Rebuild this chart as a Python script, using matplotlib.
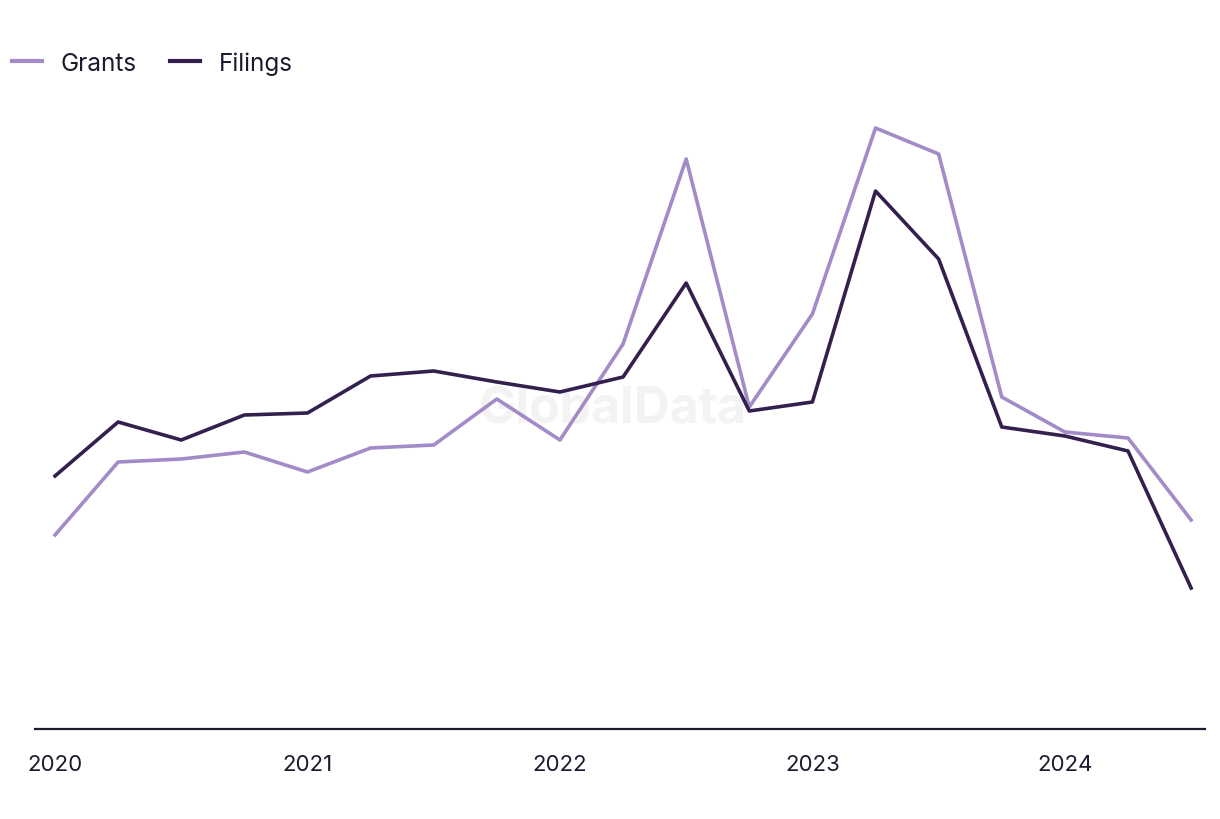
"""Quarterly grants vs filings line chart."""
import matplotlib
matplotlib.use("Agg")
import matplotlib.pyplot as plt

plt.rcParams.update({
    "font.family": ["Inter", "DejaVu Sans"],
    "font.size": 16,
    "text.color": "#1b1a2e",
})

quarters = ["2020 Q1", "2020 Q2", "2020 Q3", "2020 Q4",
            "2021 Q1", "2021 Q2", "2021 Q3", "2021 Q4",
            "2022 Q1", "2022 Q2", "2022 Q3", "2022 Q4",
            "2023 Q1", "2023 Q2", "2023 Q3", "2023 Q4",
            "2024 Q1", "2024 Q2", "2024 Q3"]
grants = [194, 267, 270, 277, 257, 281, 284, 330, 289, 385, 570, 322,
          415, 601, 575, 332, 297, 291, 209]
filings = [253, 307, 289, 314, 316, 353, 358, 347, 337, 352, 446, 318,
           327, 538, 470, 302, 293, 278, 141]
year_labels = ["2020", "2021", "2022", "2023", "2024"]

GRANT_C = "#a38bc7"
FILING_C = "#34204f"

fig = plt.figure(figsize=(12.2, 8.2), dpi=100)
ax = fig.add_axes([35 / 1220, 90 / 820, 1170 / 1220, 630 / 820])
ax.patch.set_alpha(0)

# faint watermark, behind the lines
ax.text(0.502, 0.5, "GlobalData", transform=fig.transFigure, ha="center",
        va="center", fontsize=36, fontweight="bold", color="#f3f3f3", zorder=0)

x = list(range(len(quarters)))
ax.plot(x, grants, color=GRANT_C, linewidth=2.6, label="Grants", zorder=3)
ax.plot(x, filings, color=FILING_C, linewidth=2.6, label="Filings", zorder=3)

ax.set_xlim(-0.317, 18.22)
ax.set_ylim(0, 630)

ax.set_xticks([i for i, q in enumerate(quarters) if q.endswith("Q1")])
ax.set_xticklabels(year_labels)
ax.tick_params(axis="x", length=0, pad=18, labelsize=16, labelcolor="#1b1a2e")
ax.set_yticks([])
for s in ["top", "right", "left"]:
    ax.spines[s].set_visible(False)
ax.spines["bottom"].set_color("#1b1a2e")
ax.spines["bottom"].set_linewidth(1.6)

leg = fig.legend(loc="upper left", bbox_to_anchor=(-0.008, 0.963), ncol=2,
                 frameon=False, fontsize=17.5, handlelength=1.23,
                 handletextpad=0.78, columnspacing=1.36)
for h in leg.get_lines():
    h.set_linewidth(3)

fig.savefig("out.png")
